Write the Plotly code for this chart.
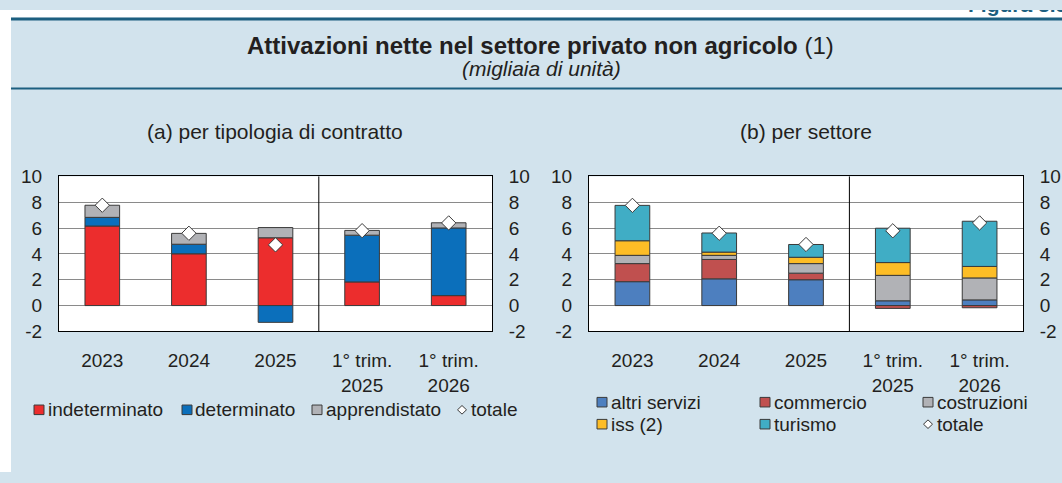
import plotly.graph_objects as go

W, H = 1062, 483

categories = ["2023", "2024", "2025", "1° trim.<br>2025", "1° trim.<br>2026"]
y_tickvals = [-2, 0, 2, 4, 6, 8, 10]
y_ticktext = ["-2", "0", "2", "4", "6", "8", "10"]

# Panel (a): per tipologia di contratto
contract_names = ["indeterminato", "determinato", "apprendistato"]
indeterminato = [6.16, 4.01, 5.25, 1.83, 0.77]
determinato = [0.67, 0.74, -1.30, 3.62, 5.24]
apprendistato = [0.94, 0.84, 0.79, 0.37, 0.40]
totale_a = [7.77, 5.60, 4.70, 5.80, 6.40]

# Panel (b): per settore
sector_names = ["altri servizi", "commercio", "costruzioni", "iss (2)", "turismo"]
altri_servizi = [1.85, 2.07, 2.00, 0.37, 0.44]
commercio = [1.40, 1.50, 0.51, -0.22, -0.17]
costruzioni = [0.64, 0.32, 0.74, 1.97, 1.70]
iss = [1.13, 0.25, 0.49, 0.99, 0.89]
turismo = [2.74, 1.48, 0.99, 2.66, 3.50]
totale_b = [7.76, 5.60, 4.73, 5.79, 6.40]
total_name = "totale"
figure_label = "Figura 3.5"

contract_vals = [indeterminato, determinato, apprendistato]
contract_colors = ["#ec2d2d", "#0b6fbb", "#b1b2b6"]
sector_vals = [altri_servizi, commercio, costruzioni, iss, turismo]
sector_colors = ["#4d7fbf", "#c0504f", "#b1b2b6", "#fdbd26", "#40adc5"]

FONT = "Liberation Sans, Arial, sans-serif"
TXT = "#231f20"
BG = "#d2e3ed"
OUTLINE = "#3a3a3a"
RULE = "#1c5f80"

fig = go.Figure()

for name, vals, col in zip(contract_names, contract_vals, contract_colors):
    fig.add_trace(go.Bar(x=categories, y=vals, name=name, marker_color=col,
                         marker_line=dict(color=OUTLINE, width=1),
                         xaxis="x", yaxis="y", showlegend=False))
fig.add_trace(go.Scatter(x=categories, y=totale_a, name=total_name, mode="markers",
                         marker=dict(symbol="diamond", size=11, color="white",
                                     line=dict(color=OUTLINE, width=1)),
                         xaxis="x", yaxis="y2", showlegend=False))

for name, vals, col in zip(sector_names, sector_vals, sector_colors):
    fig.add_trace(go.Bar(x=categories, y=vals, name=name, marker_color=col,
                         marker_line=dict(color=OUTLINE, width=1),
                         xaxis="x2", yaxis="y3", showlegend=False))
fig.add_trace(go.Scatter(x=categories, y=totale_b, name=total_name, mode="markers",
                         marker=dict(symbol="diamond", size=11, color="white",
                                     line=dict(color=OUTLINE, width=1)),
                         xaxis="x2", yaxis="y4", showlegend=False))

# page label at the very top, clipped by a thin hidden subplot (as in the original crop)
fig.add_trace(go.Scatter(x=[0], y=[0.5], mode="text", text=["<b>" + figure_label + "</b>"],
                         textposition="top right", cliponaxis=True,
                         textfont=dict(size=21, color=RULE, family=FONT),
                         xaxis="x3", yaxis="y5", showlegend=False, hoverinfo="skip"))

ydom = [1 - 336 / H, 1 - 174 / H]
yrange = [-2, 10]

xcommon = dict(type="category", showline=True, linecolor="black", linewidth=1, mirror=True,
               ticks="outside", ticklen=12, tickcolor="rgba(0,0,0,0)",
               tickfont=dict(size=19, color=TXT, family=FONT), showgrid=False)
ycommon = dict(range=yrange, tickvals=y_tickvals, ticktext=y_ticktext, showline=True,
               linecolor="black", linewidth=1,
               ticks="outside", ticklen=12, tickcolor="rgba(0,0,0,0)",
               tickfont=dict(size=19, color=TXT, family=FONT), zeroline=False)
hidden = dict(visible=False, showgrid=False, zeroline=False, fixedrange=True)

fig.update_layout(
    width=W, height=H,
    margin=dict(l=0, r=0, t=0, b=0),
    paper_bgcolor=BG, plot_bgcolor="white",
    barmode="relative", bargap=0.6,
    font=dict(family=FONT, color=TXT, size=19),
    showlegend=False,
    xaxis=dict(domain=[59 / W, 492 / W], anchor="y", **xcommon),
    yaxis=dict(domain=ydom, anchor="x", showgrid=True, gridcolor="#8a8a8a", gridwidth=1,
               mirror=True, **ycommon),
    yaxis2=dict(overlaying="y", side="right", anchor="x", showgrid=False, **ycommon),
    xaxis2=dict(domain=[589 / W, 1023 / W], anchor="y3", **xcommon),
    yaxis3=dict(domain=ydom, anchor="x2", showgrid=True, gridcolor="#8a8a8a", gridwidth=1,
                mirror=True, **ycommon),
    yaxis4=dict(overlaying="y3", side="right", anchor="x2", showgrid=False, **ycommon),
    xaxis3=dict(domain=[968 / W, 1], range=[0, 94], anchor="y5", **hidden),
    yaxis5=dict(domain=[1 - 8 / H, 1], range=[0, 8], anchor="x3", **hidden),
)

shapes = [
    # white margins outside the panel
    dict(type="rect", xref="paper", yref="paper", x0=0, x1=11 / W, y0=0, y1=1,
         fillcolor="white", line=dict(width=0), layer="below"),
    dict(type="rect", xref="paper", yref="paper", x0=0, x1=1, y0=1 - 8 / H, y1=1,
         fillcolor="white", line=dict(width=0), layer="below"),
    # header rules
    dict(type="line", xref="paper", yref="paper", x0=11 / W, x1=1, y0=1 - 9.5 / H, y1=1 - 9.5 / H,
         line=dict(color=RULE, width=3)),
    dict(type="line", xref="paper", yref="paper", x0=11 / W, x1=1, y0=1 - 82 / H, y1=1 - 82 / H,
         line=dict(color=RULE, width=2)),
    # separators between annual and quarterly data
    dict(type="line", xref="x", yref="y domain", x0=2.5, x1=2.5, y0=0, y1=1,
         line=dict(color="black", width=1)),
    dict(type="line", xref="x2", yref="y3 domain", x0=2.5, x1=2.5, y0=0, y1=1,
         line=dict(color="black", width=1)),
]

annotations = [
    dict(text="<b>Attivazioni nette nel settore privato non agricolo</b> (1)", xref="paper",
         yref="paper", x=540 / W, y=1 - 37 / H, xanchor="center", yanchor="middle",
         showarrow=False, font=dict(size=24, color=TXT, family=FONT)),
    dict(text="<i>(migliaia di unità)</i>", xref="paper", yref="paper", x=541 / W, y=1 - 61 / H,
         xanchor="center", yanchor="middle", showarrow=False,
         font=dict(size=21, color=TXT, family=FONT)),
    dict(text="(a) per tipologia di contratto", xref="paper", yref="paper", x=275 / W,
         y=1 - 127 / H, xanchor="center", yanchor="middle", showarrow=False,
         font=dict(size=21, color=TXT, family=FONT)),
    dict(text="(b) per settore", xref="paper", yref="paper", x=806 / W, y=1 - 127 / H,
         xanchor="center", yanchor="middle", showarrow=False,
         font=dict(size=21, color=TXT, family=FONT)),
]


# ---- hand-placed legends (pixel layout) ----
def legend_square(xl, yc, color):
    s = 10
    shapes.append(dict(type="rect", xref="paper", yref="paper",
                       x0=xl / W, x1=(xl + s) / W, y0=1 - (yc + s / 2) / H, y1=1 - (yc - s / 2) / H,
                       fillcolor=color, line=dict(color=OUTLINE, width=1)))


def legend_diamond(xc, yc):
    r = 4.5
    path = "M {a},{b} L {c},{d} L {a},{e} L {f},{d} Z".format(
        a=xc / W, b=1 - (yc - r) / H, c=(xc + r) / W, d=1 - yc / H, e=1 - (yc + r) / H,
        f=(xc - r) / W)
    shapes.append(dict(type="path", xref="paper", yref="paper", path=path,
                       fillcolor="white", line=dict(color=OUTLINE, width=1)))


def legend_text(xl, yc, text):
    annotations.append(dict(text=text, xref="paper", yref="paper", x=(xl - 2) / W, y=1 - yc / H,
                            xanchor="left", yanchor="middle", showarrow=False,
                            font=dict(size=19, color=TXT, family=FONT)))


# left legend: one row
left_sym_x = [34, 182, 312]
left_txt_x = [48, 195, 326]
for name, col, sx, tx in zip(contract_names, contract_colors, left_sym_x, left_txt_x):
    legend_square(sx, 418, col)
    legend_text(tx, 418, name)
legend_diamond(462, 418)
legend_text(471, 418, total_name)

# right legend: three columns, two rows
col_sym_x = [597, 760, 923]
col_txt_x = [611, 774, 937]
row_y = [410, 433]
for i, (name, col) in enumerate(zip(sector_names, sector_colors)):
    r, c = divmod(i, 3)
    legend_square(col_sym_x[c], row_y[r], col)
    legend_text(col_txt_x[c], row_y[r], name)
legend_diamond(col_sym_x[2] + 5, row_y[1])
legend_text(col_txt_x[2], row_y[1], total_name)

fig.update_layout(shapes=shapes, annotations=annotations)

fig.write_html("out.html", config={"displayModeBar": False, "staticPlot": True},
               post_script="document.body.style.margin='0';"
                           "document.body.style.overflow='hidden';")
